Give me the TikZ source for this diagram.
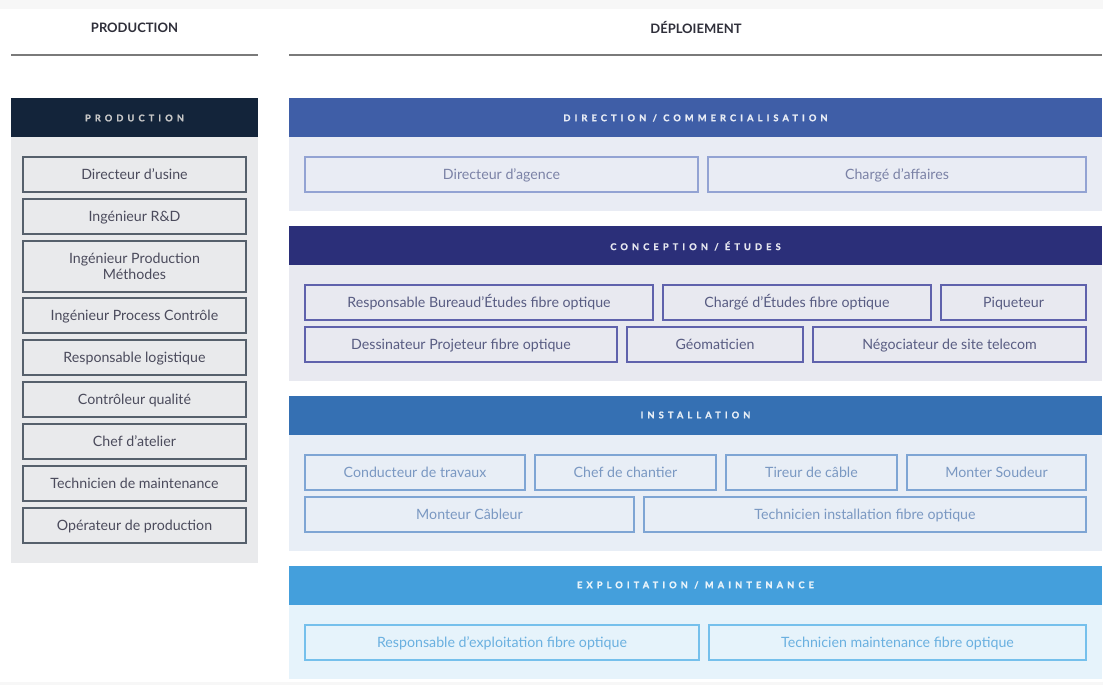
\documentclass[tikz,border=0pt]{standalone}
\usepackage{fontspec}
\setmainfont{Lato}
\newfontfamily\capsfont[LetterSpace=45, BoldFeatures={FakeBold=1.5}]{Lato}
\usetikzlibrary{positioning}

% colour scheme of the chart
\definecolor{ruleGrey}{HTML}{7A7A7A}
\definecolor{titleInk}{HTML}{2F2F3A}
\definecolor{prodHead}{HTML}{13243A}
\definecolor{prodBody}{HTML}{E9EAEC}
\definecolor{prodLine}{HTML}{56606C}
\definecolor{prodInk}{HTML}{4B4B5C}
\definecolor{dirHead}{HTML}{3F5EA7}
\definecolor{dirBody}{HTML}{E9ECF4}
\definecolor{dirLine}{HTML}{93A3D3}
\definecolor{dirInk}{HTML}{7B82A6}
\definecolor{conHead}{HTML}{2B2F79}
\definecolor{conBody}{HTML}{E8E9F0}
\definecolor{conLine}{HTML}{5F62AC}
\definecolor{conInk}{HTML}{585C82}
\definecolor{insHead}{HTML}{3570B3}
\definecolor{insBody}{HTML}{E8EEF6}
\definecolor{insLine}{HTML}{7EA5D4}
\definecolor{insInk}{HTML}{7A98C2}
\definecolor{expHead}{HTML}{449FDC}
\definecolor{expBody}{HTML}{E6F3FB}
\definecolor{expLine}{HTML}{75C0EC}
\definecolor{expInk}{HTML}{6AB0E0}

\begin{document}
\begin{tikzpicture}[x=1pt,y=-1pt,
  coltitle/.style={font=\fontsize{13}{15}\selectfont\bfseries, text=titleInk},
  bandtitle/.style={font=\capsfont\fontsize{9.2}{11}\selectfont\bfseries},
  rolebase/.style={draw, line width=1.2pt, rectangle, inner sep=0pt,
    minimum height=35pt, align=center,
    font=\fontsize{14.2}{15.5}\selectfont},
  oneline/.style={text height=10pt, text depth=0.8pt},
  prodbase/.style={rolebase, draw=prodLine, fill=prodBody, text=prodInk, minimum width=223pt},
  prodrole/.style={prodbase, oneline},
  dirrole/.style={rolebase, oneline, draw=dirLine, fill=dirBody, text=dirInk},
  conrole/.style={rolebase, oneline, draw=conLine, fill=conBody, text=conInk},
  insrole/.style={rolebase, oneline, draw=insLine, fill=insBody, text=insInk},
  exprole/.style={rolebase, oneline, draw=expLine, fill=expBody, text=expInk},
]
\useasboundingbox (0,0) rectangle (1103,685);
\fill[white] (0,0) rectangle (1103,685);
\fill[black!3] (0,0) rectangle (1103,9);
\fill[black!3] (0,682) rectangle (1103,685);

% column titles and rules
\node[coltitle] (tprod) at (134.5,28) {PRODUCTION};
\node[coltitle] (tdep) at (696,28) {DÉPLOIEMENT};
\draw[ruleGrey, line width=1.3pt] (11,55) -- (258,55);
\draw[ruleGrey, line width=1.3pt] (289,55) -- (1102,55);

% ---------- production column ----------
\fill[prodHead] (11,98) rectangle (258,137);
\fill[prodBody] (11,137) rectangle (258,563);
\node[bandtitle, text=black!22] (hprod) at (134.5,118) {PRODUCTION};

\node[prodrole] (p1) at (134.5,174.5) {Directeur d’usine};
\node[prodrole] (p2) at (134.5,216.5) {Ingénieur R\&D};
\node[prodbase, minimum height=51pt] (p3) at (134.5,266.5) {Ingénieur Production\\Méthodes};
\node[prodrole] (p4) at (134.5,315.5) {Ingénieur Process Contrôle};
\node[prodrole] (p5) at (134.5,357.5) {Responsable logistique};
\node[prodrole] (p6) at (134.5,399.5) {Contrôleur qualité};
\node[prodrole] (p7) at (134.5,441.5) {Chef d’atelier};
\node[prodrole] (p8) at (134.5,483.5) {Technicien de maintenance};
\node[prodrole] (p9) at (134.5,525.5) {Opérateur de production};

% ---------- direction / commercialisation ----------
\fill[dirHead] (289,98) rectangle (1102,137);
\fill[dirBody] (289,137) rectangle (1102,211);
\node[bandtitle, text=white!88!dirHead] (hdir) at (695.5,118) {DIRECTION / COMMERCIALISATION};
\node[dirrole, minimum width=393pt] (d1) at (501.5,174.5) {Directeur d’agence};
\node[dirrole, minimum width=378pt] (d2) at (897,174.5) {Chargé d’affaires};

% ---------- conception / etudes ----------
\fill[conHead] (289,226) rectangle (1102,265);
\fill[conBody] (289,265) rectangle (1102,381);
\node[bandtitle, text=white!88!conHead] (hcon) at (695.5,246) {CONCEPTION / ÉTUDES};
\node[conrole, minimum width=348pt] (c1) at (479,302.5) {Responsable Bureaud’Études fibre optique};
\node[conrole, minimum width=268pt] (c2) at (797,302.5) {Chargé d’Études fibre optique};
\node[conrole, minimum width=145pt] (c3) at (1013.5,302.5) {Piqueteur};
\node[conrole, minimum width=312pt] (c4) at (461,344.5) {Dessinateur Projeteur fibre optique};
\node[conrole, minimum width=176pt] (c5) at (715,344.5) {Géomaticien};
\node[conrole, minimum width=273pt] (c6) at (949.5,344.5) {Négociateur de site telecom};

% ---------- installation ----------
\fill[insHead] (289,396) rectangle (1102,435);
\fill[insBody] (289,435) rectangle (1102,551);
\node[bandtitle, text=white!88!insHead] (hins) at (695.5,415) {INSTALLATION};
\node[insrole, minimum width=220pt] (i1) at (415,472.5) {Conducteur de travaux};
\node[insrole, minimum width=181pt] (i2) at (625.5,472.5) {Chef de chantier};
\node[insrole, minimum width=171pt] (i3) at (811.5,472.5) {Tireur de câble};
\node[insrole, minimum width=179pt] (i4) at (996.5,472.5) {Monter Soudeur};
\node[insrole, minimum width=329pt] (i5) at (469.5,514.5) {Monteur Câbleur};
\node[insrole, minimum width=442pt] (i6) at (865,514.5) {Technicien installation fibre optique};

% ---------- exploitation / maintenance ----------
\fill[expHead] (289,566) rectangle (1102,605);
\fill[expBody] (289,605) rectangle (1102,679);
\node[bandtitle, text=white!88!expHead] (hexp) at (695.5,585) {EXPLOITATION / MAINTENANCE};
\node[exprole, minimum width=394pt] (e1) at (502,642.5) {Responsable d’exploitation fibre optique};
\node[exprole, minimum width=377pt] (e2) at (897.5,642.5) {Technicien maintenance fibre optique};
\end{tikzpicture}
\end{document}
